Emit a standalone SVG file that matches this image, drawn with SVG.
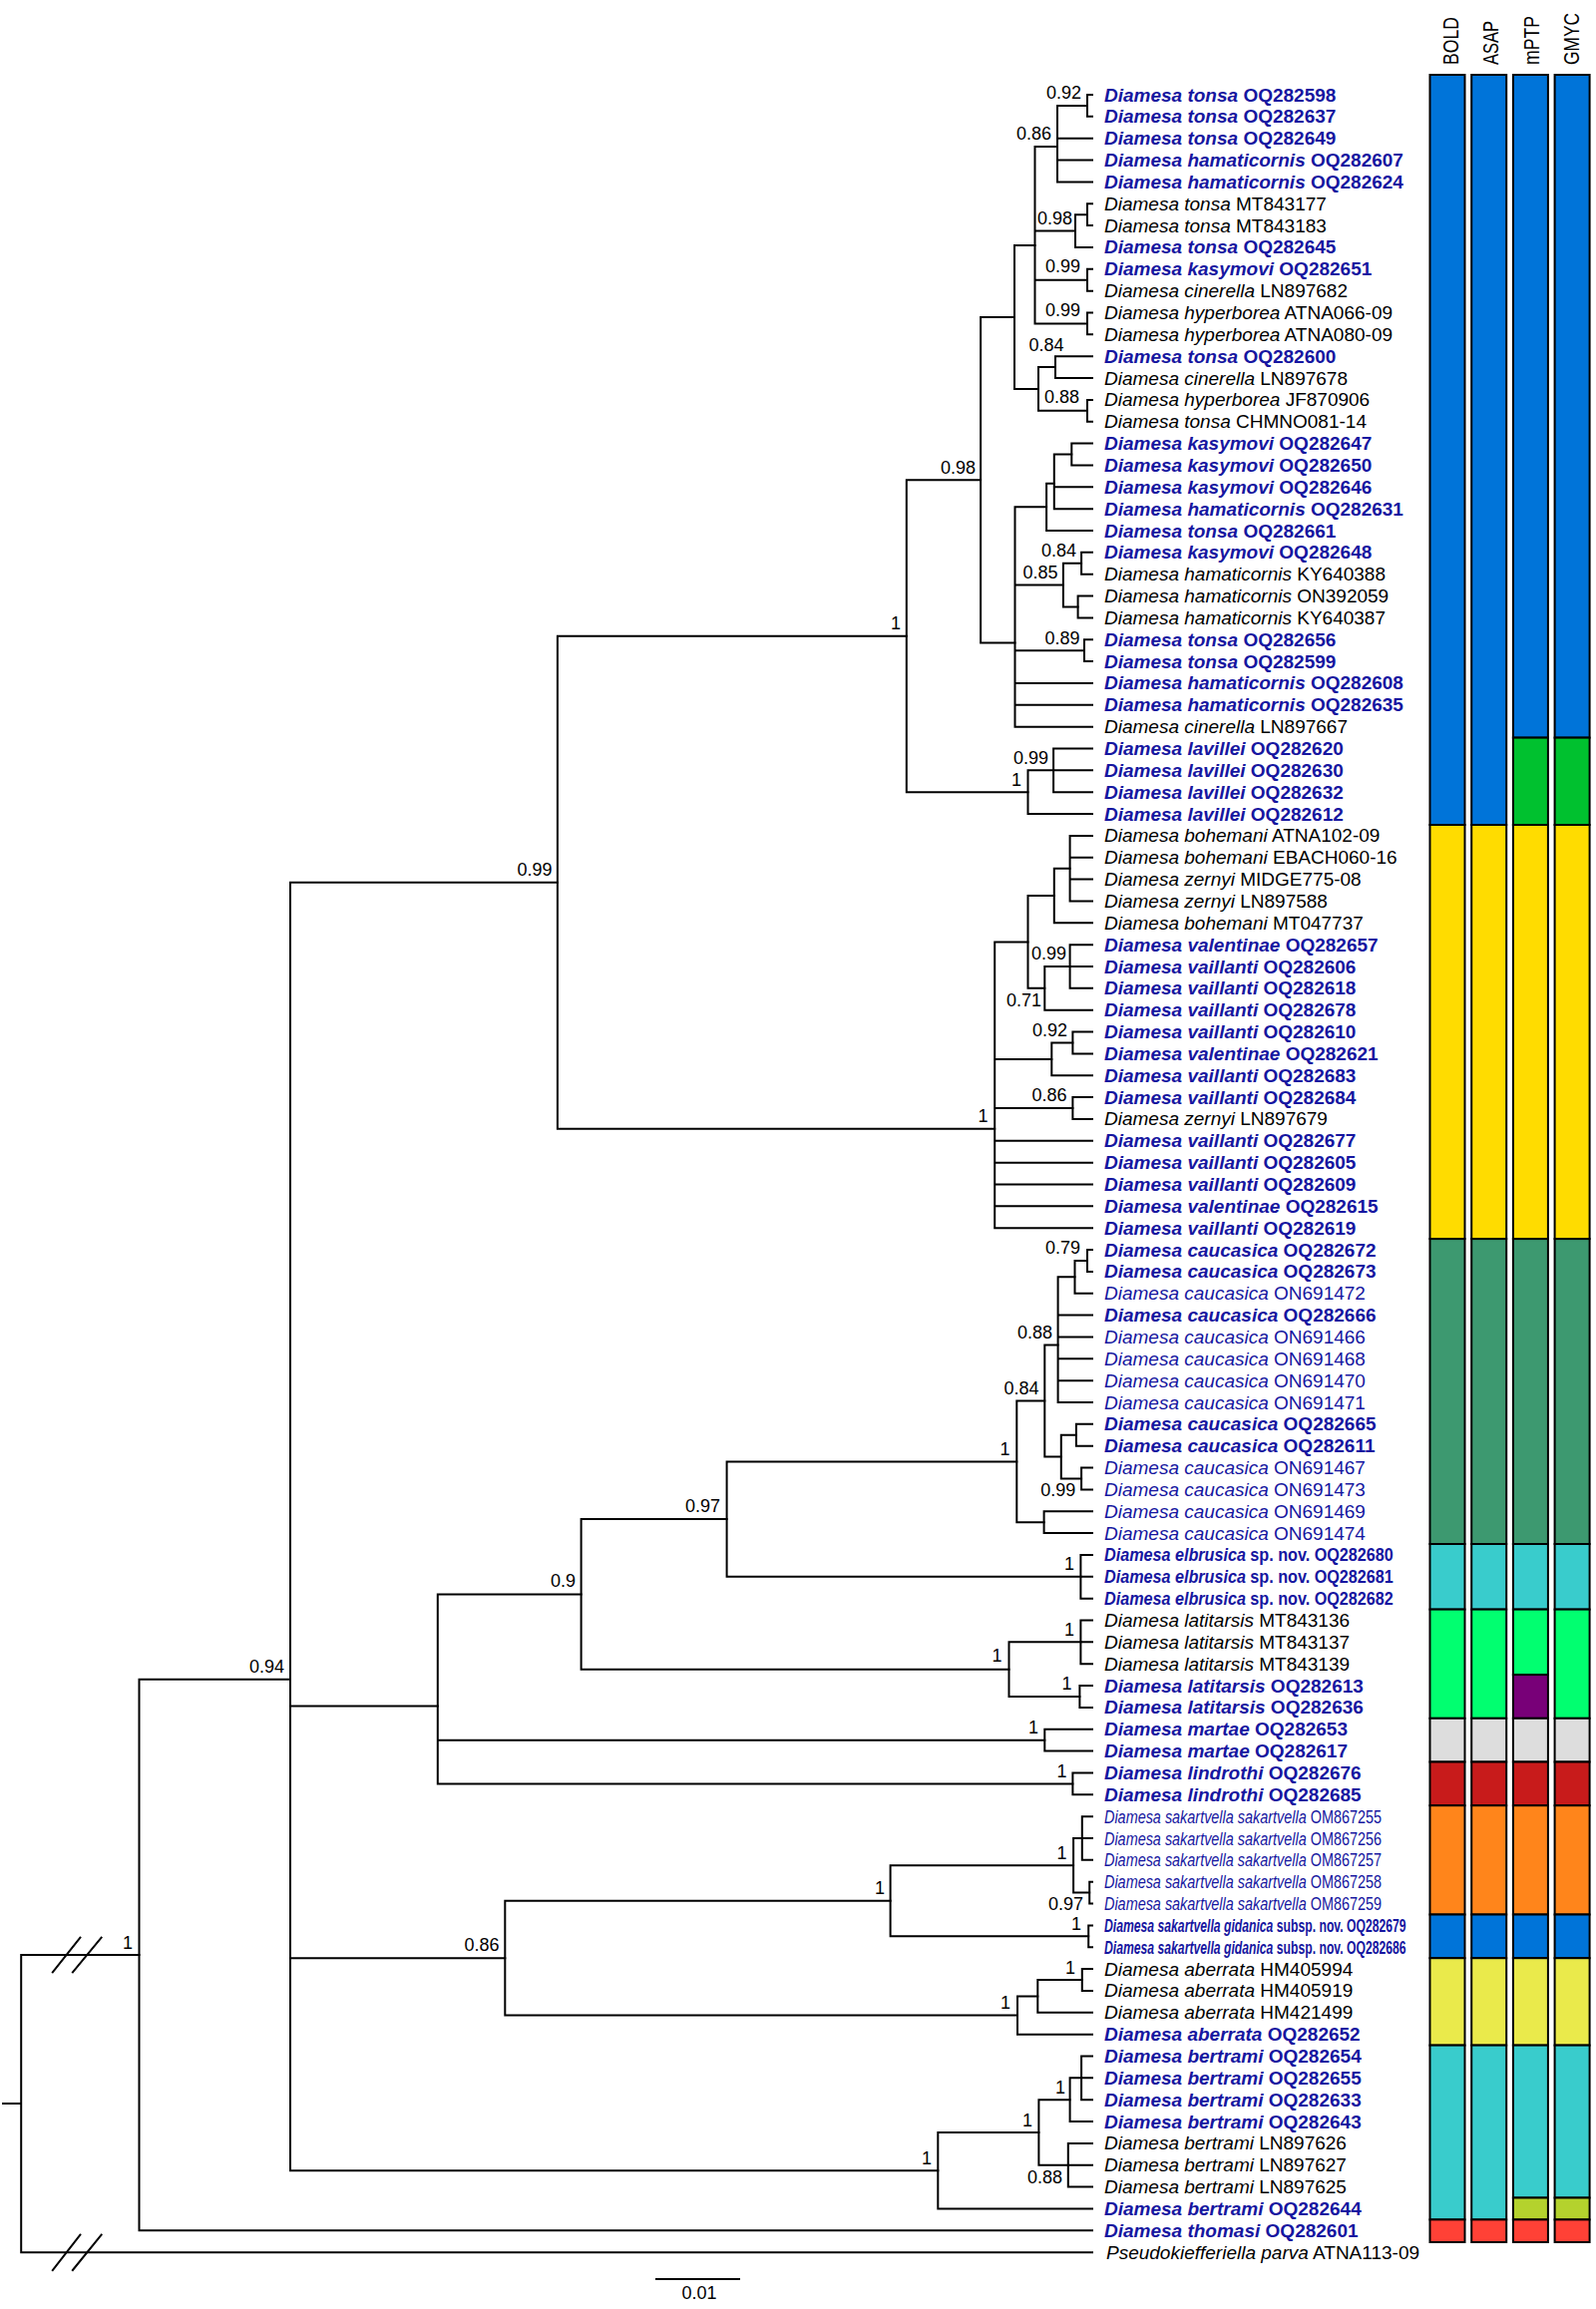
<svg xmlns="http://www.w3.org/2000/svg" width="1600" height="2315" viewBox="0 0 1600 2315">
<style>
.t{font-family:"Liberation Sans",Arial,sans-serif;font-size:19px}
.b{fill:#1616a0;font-weight:bold}
.k{fill:#000}
.r{fill:#1616a0}
.i{font-style:italic}
.s{font-family:"Liberation Sans",Arial,sans-serif;font-size:18px;text-anchor:end;fill:#000}
.h{font-family:"Liberation Sans",Arial,sans-serif;font-size:22px;fill:#000}
.br{stroke:#000;stroke-width:2;fill:none;stroke-linecap:square}
.seg{stroke:#000;stroke-width:2}
</style>
<rect width="1600" height="2315" fill="#fff"/>
<g id="connectors" class="br">
<path d="M1090 95V116.85M1090 95H1095M1090 116.85H1095"/>
<path d="M1060 105.9V182.4M1060 105.9H1090M1060 138.7H1095M1060 160.55H1095M1060 182.4H1095"/>
<path d="M1090 204.25V226.1M1090 204.25H1095M1090 226.1H1095"/>
<path d="M1078 215.2V247.95M1078 215.2H1090M1078 247.95H1095"/>
<path d="M1090 269.8V291.65M1090 269.8H1095M1090 291.65H1095"/>
<path d="M1090 313.5V335.35M1090 313.5H1095M1090 335.35H1095"/>
<path d="M1037.5 146.9V324.4M1037.5 146.9H1060M1037.5 231.6H1078M1037.5 280.7H1090M1037.5 324.4H1090"/>
<path d="M1058 357.2V379.05M1058 357.2H1095M1058 379.05H1095"/>
<path d="M1090 400.9V422.75M1090 400.9H1095M1090 422.75H1095"/>
<path d="M1041 368.1V411.8M1041 368.1H1058M1041 411.8H1090"/>
<path d="M1017 245.9V390M1017 245.9H1037.5M1017 390H1041"/>
<path d="M1074.3 444.6V466.45M1074.3 444.6H1095M1074.3 466.45H1095"/>
<path d="M1056.8 455.5V510.15M1056.8 455.5H1074.3M1056.8 488.3H1095M1056.8 510.15H1095"/>
<path d="M1049.1 484.65V532M1049.1 484.65H1056.8M1049.1 532H1095"/>
<path d="M1084.1 553.85V575.7M1084.1 553.85H1095M1084.1 575.7H1095"/>
<path d="M1080.6 597.55V619.4M1080.6 597.55H1095M1080.6 619.4H1095"/>
<path d="M1065.9 564.8V608.5M1065.9 564.8H1084.1M1065.9 608.5H1080.6"/>
<path d="M1087 641.25V663.1M1087 641.25H1095M1087 663.1H1095"/>
<path d="M1017.5 508.3V728.65M1017.5 508.3H1049.1M1017.5 586.6H1065.9M1017.5 652.2H1087M1017.5 684.95H1095M1017.5 706.8H1095M1017.5 728.65H1095"/>
<path d="M983.1 317.95V644.6M983.1 317.95H1017M983.1 644.6H1017.5"/>
<path d="M1056.1 750.5V794.2M1056.1 750.5H1095M1056.1 772.35H1095M1056.1 794.2H1095"/>
<path d="M1030.5 772.35V816.05M1030.5 772.35H1056.1M1030.5 816.05H1095"/>
<path d="M908.8 481.3V794.2M908.8 481.3H983.1M908.8 794.2H1030.5"/>
<path d="M1072.6 837.9V903.45M1072.6 837.9H1095M1072.6 859.75H1095M1072.6 881.6H1095M1072.6 903.45H1095"/>
<path d="M1056.8 870.7V925.3M1056.8 870.7H1072.6M1056.8 925.3H1095"/>
<path d="M1072.6 947.15V990.85M1072.6 947.15H1095M1072.6 969H1095M1072.6 990.85H1095"/>
<path d="M1047.3 969V1012.7M1047.3 969H1072.6M1047.3 1012.7H1095"/>
<path d="M1030.5 898V990.85M1030.5 898H1056.8M1030.5 990.85H1047.3"/>
<path d="M1075.4 1034.55V1056.4M1075.4 1034.55H1095M1075.4 1056.4H1095"/>
<path d="M1054.3 1045.5V1078.25M1054.3 1045.5H1075.4M1054.3 1078.25H1095"/>
<path d="M1075.4 1100.1V1121.95M1075.4 1100.1H1095M1075.4 1121.95H1095"/>
<path d="M997.2 944.4V1231.2M997.2 944.4H1030.5M997.2 1061.9H1054.3M997.2 1111H1075.4M997.2 1143.8H1095M997.2 1165.65H1095M997.2 1187.5H1095M997.2 1209.35H1095M997.2 1231.2H1095"/>
<path d="M558.9 637.75V1131.85M558.9 637.75H908.8M558.9 1131.85H997.2"/>
<path d="M1090 1253.05V1274.9M1090 1253.05H1095M1090 1274.9H1095"/>
<path d="M1077.5 1263.95V1296.75M1077.5 1263.95H1090M1077.5 1296.75H1095"/>
<path d="M1060.6 1280.35V1406M1060.6 1280.35H1077.5M1060.6 1318.6H1095M1060.6 1340.45H1095M1060.6 1362.3H1095M1060.6 1384.15H1095M1060.6 1406H1095"/>
<path d="M1078.9 1427.85V1449.7M1078.9 1427.85H1095M1078.9 1449.7H1095"/>
<path d="M1084.1 1471.55V1493.4M1084.1 1471.55H1095M1084.1 1493.4H1095"/>
<path d="M1063.8 1438.8V1482.5M1063.8 1438.8H1078.9M1063.8 1482.5H1084.1"/>
<path d="M1047.3 1348.6V1460.6M1047.3 1348.6H1060.6M1047.3 1460.6H1063.8"/>
<path d="M1046.6 1515.25V1537.1M1046.6 1515.25H1095M1046.6 1537.1H1095"/>
<path d="M1019.3 1404.6V1526.2M1019.3 1404.6H1047.3M1019.3 1526.2H1046.6"/>
<path d="M1083.4 1558.95V1602.65M1083.4 1558.95H1095M1083.4 1580.8H1095M1083.4 1602.65H1095"/>
<path d="M728.6 1465.4V1580.8M728.6 1465.4H1019.3M728.6 1580.8H1083.4"/>
<path d="M1083.4 1624.5V1668.2M1083.4 1624.5H1095M1083.4 1646.35H1095M1083.4 1668.2H1095"/>
<path d="M1082.4 1690.05V1711.9M1082.4 1690.05H1095M1082.4 1711.9H1095"/>
<path d="M1011.5 1646.35V1700.95M1011.5 1646.35H1083.4M1011.5 1700.95H1082.4"/>
<path d="M582.6 1523.1V1673.65M582.6 1523.1H728.6M582.6 1673.65H1011.5"/>
<path d="M1047.3 1733.75V1755.6M1047.3 1733.75H1095M1047.3 1755.6H1095"/>
<path d="M1075.4 1777.45V1799.3M1075.4 1777.45H1095M1075.4 1799.3H1095"/>
<path d="M438.8 1598.4V1788.4M438.8 1598.4H582.6M438.8 1744.7H1047.3M438.8 1788.4H1075.4"/>
<path d="M1084.8 1821.15V1864.85M1084.8 1821.15H1095M1084.8 1843H1095M1084.8 1864.85H1095"/>
<path d="M1092.2 1886.7V1908.55M1092.2 1886.7H1095M1092.2 1908.55H1095"/>
<path d="M1076.1 1843V1897.6M1076.1 1843H1084.8M1076.1 1897.6H1092.2"/>
<path d="M1091.2 1930.4V1952.25M1091.2 1930.4H1095M1091.2 1952.25H1095"/>
<path d="M892.6 1870.3V1941.3M892.6 1870.3H1076.1M892.6 1941.3H1091.2"/>
<path d="M1084.8 1974.1V1995.95M1084.8 1974.1H1095M1084.8 1995.95H1095"/>
<path d="M1040.3 1985V2017.8M1040.3 1985H1084.8M1040.3 2017.8H1095"/>
<path d="M1020 2001.4V2039.65M1020 2001.4H1040.3M1020 2039.65H1095"/>
<path d="M506.3 1905.8V2020.5M506.3 1905.8H892.6M506.3 2020.5H1020"/>
<path d="M1084.1 2061.5V2105.2M1084.1 2061.5H1095M1084.1 2083.35H1095M1084.1 2105.2H1095"/>
<path d="M1072.6 2083.35V2127.05M1072.6 2083.35H1084.1M1072.6 2127.05H1095"/>
<path d="M1070.8 2148.9V2192.6M1070.8 2148.9H1095M1070.8 2170.75H1095M1070.8 2192.6H1095"/>
<path d="M1041.4 2105.2V2170.75M1041.4 2105.2H1072.6M1041.4 2170.75H1070.8"/>
<path d="M940.3 2138V2214.45M940.3 2138H1041.4M940.3 2214.45H1095"/>
<path d="M291 884.8V2176.2M291 884.8H558.9M291 1710.5H438.8M291 1963.2H506.3M291 2176.2H940.3"/>
<path d="M139.5 1683.7V2236.3M139.5 1683.7H291M139.5 2236.3H1095"/>
<path d="M21.2 1960V2258.15M21.2 1960H139.5M21.2 2258.15H1095M3 2109.1H21.2"/>
<path d="M52.8 1977.3L80.4 1942.7M72.9 1977.3L101.6 1942.7M52.8 2276L80.4 2240.7M72.9 2276L101.6 2240.7"/>
</g>
<g id="support-values">
<text class="s" x="1084" y="99.3">0.92</text>
<text class="s" x="1054" y="139.5">0.86</text>
<text class="s" x="1075" y="225">0.98</text>
<text class="s" x="1083" y="273">0.99</text>
<text class="s" x="1083" y="317">0.99</text>
<text class="s" x="1066.5" y="351.5">0.84</text>
<text class="s" x="1082" y="403.5">0.88</text>
<text class="s" x="978" y="474.5">0.98</text>
<text class="s" x="1079" y="558">0.84</text>
<text class="s" x="1060.5" y="580">0.85</text>
<text class="s" x="1082.5" y="646">0.89</text>
<text class="s" x="1051" y="765.5">0.99</text>
<text class="s" x="1024" y="787.5">1</text>
<text class="s" x="903" y="631">1</text>
<text class="s" x="553.5" y="878">0.99</text>
<text class="s" x="1069" y="962">0.99</text>
<text class="s" x="1044" y="1008.5">0.71</text>
<text class="s" x="1070" y="1038.5">0.92</text>
<text class="s" x="1069.5" y="1103.5">0.86</text>
<text class="s" x="990.5" y="1125">1</text>
<text class="s" x="1083" y="1257">0.79</text>
<text class="s" x="1055" y="1342">0.88</text>
<text class="s" x="1041.5" y="1397.5">0.84</text>
<text class="s" x="1078.2" y="1499.5">0.99</text>
<text class="s" x="1012.5" y="1458.5">1</text>
<text class="s" x="1077" y="1573.5">1</text>
<text class="s" x="722" y="1516">0.97</text>
<text class="s" x="1077" y="1639.5">1</text>
<text class="s" x="1074.5" y="1694">1</text>
<text class="s" x="1004.5" y="1666">1</text>
<text class="s" x="577" y="1591">0.9</text>
<text class="s" x="1041" y="1738">1</text>
<text class="s" x="1069.5" y="1782">1</text>
<text class="s" x="1069.5" y="1863.5">1</text>
<text class="s" x="1086" y="1915">0.97</text>
<text class="s" x="1084" y="1935">1</text>
<text class="s" x="887" y="1898.5">1</text>
<text class="s" x="1078" y="1978.5">1</text>
<text class="s" x="1013" y="2013.5">1</text>
<text class="s" x="500.5" y="1956">0.86</text>
<text class="s" x="1068" y="2098.5">1</text>
<text class="s" x="1065" y="2188.5">0.88</text>
<text class="s" x="1035" y="2131.5">1</text>
<text class="s" x="934" y="2169.5">1</text>
<text class="s" x="285" y="1677">0.94</text>
<text class="s" x="133" y="1953.5">1</text>
</g>
<g id="leaves" class="t">
<g id="leaf-1"><text class="b" x="1107" y="101.5"><tspan class="i">Diamesa tonsa</tspan> OQ282598</text></g>
<g id="leaf-2"><text class="b" x="1107" y="123.35"><tspan class="i">Diamesa tonsa</tspan> OQ282637</text></g>
<g id="leaf-3"><text class="b" x="1107" y="145.2"><tspan class="i">Diamesa tonsa</tspan> OQ282649</text></g>
<g id="leaf-4"><text class="b" x="1107" y="167.05"><tspan class="i">Diamesa hamaticornis</tspan> OQ282607</text></g>
<g id="leaf-5"><text class="b" x="1107" y="188.9"><tspan class="i">Diamesa hamaticornis</tspan> OQ282624</text></g>
<g id="leaf-6"><text class="k" x="1107" y="210.75"><tspan class="i">Diamesa tonsa</tspan> MT843177</text></g>
<g id="leaf-7"><text class="k" x="1107" y="232.6"><tspan class="i">Diamesa tonsa</tspan> MT843183</text></g>
<g id="leaf-8"><text class="b" x="1107" y="254.45"><tspan class="i">Diamesa tonsa</tspan> OQ282645</text></g>
<g id="leaf-9"><text class="b" x="1107" y="276.3"><tspan class="i">Diamesa kasymovi</tspan> OQ282651</text></g>
<g id="leaf-10"><text class="k" x="1107" y="298.15"><tspan class="i">Diamesa cinerella</tspan> LN897682</text></g>
<g id="leaf-11"><text class="k" x="1107" y="320"><tspan class="i">Diamesa hyperborea</tspan> ATNA066-09</text></g>
<g id="leaf-12"><text class="k" x="1107" y="341.85"><tspan class="i">Diamesa hyperborea</tspan> ATNA080-09</text></g>
<g id="leaf-13"><text class="b" x="1107" y="363.7"><tspan class="i">Diamesa tonsa</tspan> OQ282600</text></g>
<g id="leaf-14"><text class="k" x="1107" y="385.55"><tspan class="i">Diamesa cinerella</tspan> LN897678</text></g>
<g id="leaf-15"><text class="k" x="1107" y="407.4"><tspan class="i">Diamesa hyperborea</tspan> JF870906</text></g>
<g id="leaf-16"><text class="k" x="1107" y="429.25"><tspan class="i">Diamesa tonsa</tspan> CHMNO081-14</text></g>
<g id="leaf-17"><text class="b" x="1107" y="451.1"><tspan class="i">Diamesa kasymovi</tspan> OQ282647</text></g>
<g id="leaf-18"><text class="b" x="1107" y="472.95"><tspan class="i">Diamesa kasymovi</tspan> OQ282650</text></g>
<g id="leaf-19"><text class="b" x="1107" y="494.8"><tspan class="i">Diamesa kasymovi</tspan> OQ282646</text></g>
<g id="leaf-20"><text class="b" x="1107" y="516.65"><tspan class="i">Diamesa hamaticornis</tspan> OQ282631</text></g>
<g id="leaf-21"><text class="b" x="1107" y="538.5"><tspan class="i">Diamesa tonsa</tspan> OQ282661</text></g>
<g id="leaf-22"><text class="b" x="1107" y="560.35"><tspan class="i">Diamesa kasymovi</tspan> OQ282648</text></g>
<g id="leaf-23"><text class="k" x="1107" y="582.2"><tspan class="i">Diamesa hamaticornis</tspan> KY640388</text></g>
<g id="leaf-24"><text class="k" x="1107" y="604.05"><tspan class="i">Diamesa hamaticornis</tspan> ON392059</text></g>
<g id="leaf-25"><text class="k" x="1107" y="625.9"><tspan class="i">Diamesa hamaticornis</tspan> KY640387</text></g>
<g id="leaf-26"><text class="b" x="1107" y="647.75"><tspan class="i">Diamesa tonsa</tspan> OQ282656</text></g>
<g id="leaf-27"><text class="b" x="1107" y="669.6"><tspan class="i">Diamesa tonsa</tspan> OQ282599</text></g>
<g id="leaf-28"><text class="b" x="1107" y="691.45"><tspan class="i">Diamesa hamaticornis</tspan> OQ282608</text></g>
<g id="leaf-29"><text class="b" x="1107" y="713.3"><tspan class="i">Diamesa hamaticornis</tspan> OQ282635</text></g>
<g id="leaf-30"><text class="k" x="1107" y="735.15"><tspan class="i">Diamesa cinerella</tspan> LN897667</text></g>
<g id="leaf-31"><text class="b" x="1107" y="757"><tspan class="i">Diamesa lavillei</tspan> OQ282620</text></g>
<g id="leaf-32"><text class="b" x="1107" y="778.85"><tspan class="i">Diamesa lavillei</tspan> OQ282630</text></g>
<g id="leaf-33"><text class="b" x="1107" y="800.7"><tspan class="i">Diamesa lavillei</tspan> OQ282632</text></g>
<g id="leaf-34"><text class="b" x="1107" y="822.55"><tspan class="i">Diamesa lavillei</tspan> OQ282612</text></g>
<g id="leaf-35"><text class="k" x="1107" y="844.4"><tspan class="i">Diamesa bohemani</tspan> ATNA102-09</text></g>
<g id="leaf-36"><text class="k" x="1107" y="866.25"><tspan class="i">Diamesa bohemani</tspan> EBACH060-16</text></g>
<g id="leaf-37"><text class="k" x="1107" y="888.1"><tspan class="i">Diamesa zernyi</tspan> MIDGE775-08</text></g>
<g id="leaf-38"><text class="k" x="1107" y="909.95"><tspan class="i">Diamesa zernyi</tspan> LN897588</text></g>
<g id="leaf-39"><text class="k" x="1107" y="931.8"><tspan class="i">Diamesa bohemani</tspan> MT047737</text></g>
<g id="leaf-40"><text class="b" x="1107" y="953.65"><tspan class="i">Diamesa valentinae</tspan> OQ282657</text></g>
<g id="leaf-41"><text class="b" x="1107" y="975.5"><tspan class="i">Diamesa vaillanti</tspan> OQ282606</text></g>
<g id="leaf-42"><text class="b" x="1107" y="997.35"><tspan class="i">Diamesa vaillanti</tspan> OQ282618</text></g>
<g id="leaf-43"><text class="b" x="1107" y="1019.2"><tspan class="i">Diamesa vaillanti</tspan> OQ282678</text></g>
<g id="leaf-44"><text class="b" x="1107" y="1041.05"><tspan class="i">Diamesa vaillanti</tspan> OQ282610</text></g>
<g id="leaf-45"><text class="b" x="1107" y="1062.9"><tspan class="i">Diamesa valentinae</tspan> OQ282621</text></g>
<g id="leaf-46"><text class="b" x="1107" y="1084.75"><tspan class="i">Diamesa vaillanti</tspan> OQ282683</text></g>
<g id="leaf-47"><text class="b" x="1107" y="1106.6"><tspan class="i">Diamesa vaillanti</tspan> OQ282684</text></g>
<g id="leaf-48"><text class="k" x="1107" y="1128.45"><tspan class="i">Diamesa zernyi</tspan> LN897679</text></g>
<g id="leaf-49"><text class="b" x="1107" y="1150.3"><tspan class="i">Diamesa vaillanti</tspan> OQ282677</text></g>
<g id="leaf-50"><text class="b" x="1107" y="1172.15"><tspan class="i">Diamesa vaillanti</tspan> OQ282605</text></g>
<g id="leaf-51"><text class="b" x="1107" y="1194"><tspan class="i">Diamesa vaillanti</tspan> OQ282609</text></g>
<g id="leaf-52"><text class="b" x="1107" y="1215.85"><tspan class="i">Diamesa valentinae</tspan> OQ282615</text></g>
<g id="leaf-53"><text class="b" x="1107" y="1237.7"><tspan class="i">Diamesa vaillanti</tspan> OQ282619</text></g>
<g id="leaf-54"><text class="b" x="1107" y="1259.55"><tspan class="i">Diamesa caucasica</tspan> OQ282672</text></g>
<g id="leaf-55"><text class="b" x="1107" y="1281.4"><tspan class="i">Diamesa caucasica</tspan> OQ282673</text></g>
<g id="leaf-56"><text class="r" x="1107" y="1303.25"><tspan class="i">Diamesa caucasica</tspan> ON691472</text></g>
<g id="leaf-57"><text class="b" x="1107" y="1325.1"><tspan class="i">Diamesa caucasica</tspan> OQ282666</text></g>
<g id="leaf-58"><text class="r" x="1107" y="1346.95"><tspan class="i">Diamesa caucasica</tspan> ON691466</text></g>
<g id="leaf-59"><text class="r" x="1107" y="1368.8"><tspan class="i">Diamesa caucasica</tspan> ON691468</text></g>
<g id="leaf-60"><text class="r" x="1107" y="1390.65"><tspan class="i">Diamesa caucasica</tspan> ON691470</text></g>
<g id="leaf-61"><text class="r" x="1107" y="1412.5"><tspan class="i">Diamesa caucasica</tspan> ON691471</text></g>
<g id="leaf-62"><text class="b" x="1107" y="1434.35"><tspan class="i">Diamesa caucasica</tspan> OQ282665</text></g>
<g id="leaf-63"><text class="b" x="1107" y="1456.2"><tspan class="i">Diamesa caucasica</tspan> OQ282611</text></g>
<g id="leaf-64"><text class="r" x="1107" y="1478.05"><tspan class="i">Diamesa caucasica</tspan> ON691467</text></g>
<g id="leaf-65"><text class="r" x="1107" y="1499.9"><tspan class="i">Diamesa caucasica</tspan> ON691473</text></g>
<g id="leaf-66"><text class="r" x="1107" y="1521.75"><tspan class="i">Diamesa caucasica</tspan> ON691469</text></g>
<g id="leaf-67"><text class="r" x="1107" y="1543.6"><tspan class="i">Diamesa caucasica</tspan> ON691474</text></g>
<g id="leaf-68"><text class="b" transform="translate(1107 1565.45) scale(0.851 1)"><tspan class="i">Diamesa elbrusica</tspan> sp. nov. OQ282680</text></g>
<g id="leaf-69"><text class="b" transform="translate(1107 1587.3) scale(0.851 1)"><tspan class="i">Diamesa elbrusica</tspan> sp. nov. OQ282681</text></g>
<g id="leaf-70"><text class="b" transform="translate(1107 1609.15) scale(0.851 1)"><tspan class="i">Diamesa elbrusica</tspan> sp. nov. OQ282682</text></g>
<g id="leaf-71"><text class="k" x="1107" y="1631"><tspan class="i">Diamesa latitarsis</tspan> MT843136</text></g>
<g id="leaf-72"><text class="k" x="1107" y="1652.85"><tspan class="i">Diamesa latitarsis</tspan> MT843137</text></g>
<g id="leaf-73"><text class="k" x="1107" y="1674.7"><tspan class="i">Diamesa latitarsis</tspan> MT843139</text></g>
<g id="leaf-74"><text class="b" x="1107" y="1696.55"><tspan class="i">Diamesa latitarsis</tspan> OQ282613</text></g>
<g id="leaf-75"><text class="b" x="1107" y="1718.4"><tspan class="i">Diamesa latitarsis</tspan> OQ282636</text></g>
<g id="leaf-76"><text class="b" x="1107" y="1740.25"><tspan class="i">Diamesa martae</tspan> OQ282653</text></g>
<g id="leaf-77"><text class="b" x="1107" y="1762.1"><tspan class="i">Diamesa martae</tspan> OQ282617</text></g>
<g id="leaf-78"><text class="b" x="1107" y="1783.95"><tspan class="i">Diamesa lindrothi</tspan> OQ282676</text></g>
<g id="leaf-79"><text class="b" x="1107" y="1805.8"><tspan class="i">Diamesa lindrothi</tspan> OQ282685</text></g>
<g id="leaf-80"><text class="r" transform="translate(1107 1827.65) scale(0.759 1)"><tspan class="i">Diamesa sakartvella sakartvella</tspan> OM867255</text></g>
<g id="leaf-81"><text class="r" transform="translate(1107 1849.5) scale(0.759 1)"><tspan class="i">Diamesa sakartvella sakartvella</tspan> OM867256</text></g>
<g id="leaf-82"><text class="r" transform="translate(1107 1871.35) scale(0.759 1)"><tspan class="i">Diamesa sakartvella sakartvella</tspan> OM867257</text></g>
<g id="leaf-83"><text class="r" transform="translate(1107 1893.2) scale(0.759 1)"><tspan class="i">Diamesa sakartvella sakartvella</tspan> OM867258</text></g>
<g id="leaf-84"><text class="r" transform="translate(1107 1915.05) scale(0.759 1)"><tspan class="i">Diamesa sakartvella sakartvella</tspan> OM867259</text></g>
<g id="leaf-85"><text class="b" transform="translate(1107 1936.9) scale(0.642 1)"><tspan class="i">Diamesa sakartvella gidanica</tspan> subsp. nov. OQ282679</text></g>
<g id="leaf-86"><text class="b" transform="translate(1107 1958.75) scale(0.642 1)"><tspan class="i">Diamesa sakartvella gidanica</tspan> subsp. nov. OQ282686</text></g>
<g id="leaf-87"><text class="k" x="1107" y="1980.6"><tspan class="i">Diamesa aberrata</tspan> HM405994</text></g>
<g id="leaf-88"><text class="k" x="1107" y="2002.45"><tspan class="i">Diamesa aberrata</tspan> HM405919</text></g>
<g id="leaf-89"><text class="k" x="1107" y="2024.3"><tspan class="i">Diamesa aberrata</tspan> HM421499</text></g>
<g id="leaf-90"><text class="b" x="1107" y="2046.15"><tspan class="i">Diamesa aberrata</tspan> OQ282652</text></g>
<g id="leaf-91"><text class="b" x="1107" y="2068"><tspan class="i">Diamesa bertrami</tspan> OQ282654</text></g>
<g id="leaf-92"><text class="b" x="1107" y="2089.85"><tspan class="i">Diamesa bertrami</tspan> OQ282655</text></g>
<g id="leaf-93"><text class="b" x="1107" y="2111.7"><tspan class="i">Diamesa bertrami</tspan> OQ282633</text></g>
<g id="leaf-94"><text class="b" x="1107" y="2133.55"><tspan class="i">Diamesa bertrami</tspan> OQ282643</text></g>
<g id="leaf-95"><text class="k" x="1107" y="2155.4"><tspan class="i">Diamesa bertrami</tspan> LN897626</text></g>
<g id="leaf-96"><text class="k" x="1107" y="2177.25"><tspan class="i">Diamesa bertrami</tspan> LN897627</text></g>
<g id="leaf-97"><text class="k" x="1107" y="2199.1"><tspan class="i">Diamesa bertrami</tspan> LN897625</text></g>
<g id="leaf-98"><text class="b" x="1107" y="2220.95"><tspan class="i">Diamesa bertrami</tspan> OQ282644</text></g>
<g id="leaf-99"><text class="b" x="1107" y="2242.8"><tspan class="i">Diamesa thomasi</tspan> OQ282601</text></g>
<g id="leaf-100"><text class="k" x="1109" y="2264.65"><tspan class="i">Pseudokiefferiella parva</tspan> ATNA113-09</text></g>
</g>
<g id="headers" class="h">
<text transform="translate(1462 65) rotate(-90)" textLength="48" lengthAdjust="spacingAndGlyphs">BOLD</text>
<text transform="translate(1502 65) rotate(-90)" textLength="44" lengthAdjust="spacingAndGlyphs">ASAP</text>
<text transform="translate(1543 65) rotate(-90)" textLength="49" lengthAdjust="spacingAndGlyphs">mPTP</text>
<text transform="translate(1583 65) rotate(-90)" textLength="52" lengthAdjust="spacingAndGlyphs">GMYC</text>
</g>
<g id="bar-BOLD" class="seg">
<rect x="1433.5" y="75" width="35" height="752" fill="#0074D9"/>
<rect x="1433.5" y="827" width="35" height="415.1" fill="#FFDC00"/>
<rect x="1433.5" y="1242.1" width="35" height="305.9" fill="#3D9970"/>
<rect x="1433.5" y="1548" width="35" height="65.6" fill="#39CCCC"/>
<rect x="1433.5" y="1613.6" width="35" height="109.2" fill="#01FF70"/>
<rect x="1433.5" y="1722.8" width="35" height="43.7" fill="#DDDDDD"/>
<rect x="1433.5" y="1766.5" width="35" height="43.7" fill="#C81B1B"/>
<rect x="1433.5" y="1810.2" width="35" height="109.3" fill="#FF851B"/>
<rect x="1433.5" y="1919.5" width="35" height="43.7" fill="#0074D9"/>
<rect x="1433.5" y="1963.2" width="35" height="87.4" fill="#EAEA4B"/>
<rect x="1433.5" y="2050.6" width="35" height="174.8" fill="#39CCCC"/>
<rect x="1433.5" y="2225.4" width="35" height="22.6" fill="#FF4136"/>
</g>
<g id="bar-ASAP" class="seg">
<rect x="1475.2" y="75" width="35" height="752" fill="#0074D9"/>
<rect x="1475.2" y="827" width="35" height="415.1" fill="#FFDC00"/>
<rect x="1475.2" y="1242.1" width="35" height="305.9" fill="#3D9970"/>
<rect x="1475.2" y="1548" width="35" height="65.6" fill="#39CCCC"/>
<rect x="1475.2" y="1613.6" width="35" height="109.2" fill="#01FF70"/>
<rect x="1475.2" y="1722.8" width="35" height="43.7" fill="#DDDDDD"/>
<rect x="1475.2" y="1766.5" width="35" height="43.7" fill="#C81B1B"/>
<rect x="1475.2" y="1810.2" width="35" height="109.3" fill="#FF851B"/>
<rect x="1475.2" y="1919.5" width="35" height="43.7" fill="#0074D9"/>
<rect x="1475.2" y="1963.2" width="35" height="87.4" fill="#EAEA4B"/>
<rect x="1475.2" y="2050.6" width="35" height="174.8" fill="#39CCCC"/>
<rect x="1475.2" y="2225.4" width="35" height="22.6" fill="#FF4136"/>
</g>
<g id="bar-mPTP" class="seg">
<rect x="1516.9" y="75" width="35" height="664.6" fill="#0074D9"/>
<rect x="1516.9" y="739.6" width="35" height="87.4" fill="#00C12F"/>
<rect x="1516.9" y="827" width="35" height="415.1" fill="#FFDC00"/>
<rect x="1516.9" y="1242.1" width="35" height="305.9" fill="#3D9970"/>
<rect x="1516.9" y="1548" width="35" height="65.6" fill="#39CCCC"/>
<rect x="1516.9" y="1613.6" width="35" height="65.5" fill="#01FF70"/>
<rect x="1516.9" y="1679.1" width="35" height="43.7" fill="#780078"/>
<rect x="1516.9" y="1722.8" width="35" height="43.7" fill="#DDDDDD"/>
<rect x="1516.9" y="1766.5" width="35" height="43.7" fill="#C81B1B"/>
<rect x="1516.9" y="1810.2" width="35" height="109.3" fill="#FF851B"/>
<rect x="1516.9" y="1919.5" width="35" height="43.7" fill="#0074D9"/>
<rect x="1516.9" y="1963.2" width="35" height="87.4" fill="#EAEA4B"/>
<rect x="1516.9" y="2050.6" width="35" height="152.9" fill="#39CCCC"/>
<rect x="1516.9" y="2203.5" width="35" height="21.9" fill="#B4D22D"/>
<rect x="1516.9" y="2225.4" width="35" height="22.6" fill="#FF4136"/>
</g>
<g id="bar-GMYC" class="seg">
<rect x="1558.6" y="75" width="35" height="664.6" fill="#0074D9"/>
<rect x="1558.6" y="739.6" width="35" height="87.4" fill="#00C12F"/>
<rect x="1558.6" y="827" width="35" height="415.1" fill="#FFDC00"/>
<rect x="1558.6" y="1242.1" width="35" height="305.9" fill="#3D9970"/>
<rect x="1558.6" y="1548" width="35" height="65.6" fill="#39CCCC"/>
<rect x="1558.6" y="1613.6" width="35" height="109.2" fill="#01FF70"/>
<rect x="1558.6" y="1722.8" width="35" height="43.7" fill="#DDDDDD"/>
<rect x="1558.6" y="1766.5" width="35" height="43.7" fill="#C81B1B"/>
<rect x="1558.6" y="1810.2" width="35" height="109.3" fill="#FF851B"/>
<rect x="1558.6" y="1919.5" width="35" height="43.7" fill="#0074D9"/>
<rect x="1558.6" y="1963.2" width="35" height="87.4" fill="#EAEA4B"/>
<rect x="1558.6" y="2050.6" width="35" height="152.9" fill="#39CCCC"/>
<rect x="1558.6" y="2203.5" width="35" height="21.9" fill="#B4D22D"/>
<rect x="1558.6" y="2225.4" width="35" height="22.6" fill="#FF4136"/>
</g>
<g id="scale-bar">
<path class="br" d="M658 2285H741"/>
<text class="s" x="701" y="2305" style="text-anchor:middle">0.01</text>
</g>
</svg>
